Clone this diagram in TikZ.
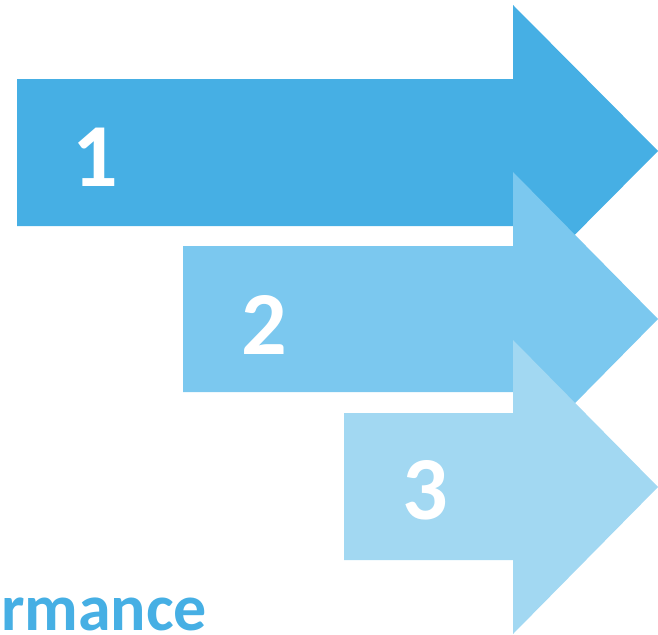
\documentclass[tikz,border=0pt]{standalone}
\usepackage{fontspec}
\setmainfont{Carlito}
\definecolor{blueA}{HTML}{46AFE4}
\definecolor{blueB}{HTML}{7BC8EF}
\definecolor{blueC}{HTML}{A2D8F2}
\begin{document}
\begin{tikzpicture}[x=1pt,y=-1pt,
  arrowshape/.style={draw=none},
  num/.style={text=white,font=\fontsize{90}{90}\selectfont\bfseries,inner sep=0pt,anchor=center},
  label/.style={text=blueA,font=\fontsize{66}{66}\selectfont\bfseries,inner sep=0pt,anchor=base west}]
\useasboundingbox (0,0) rectangle (658,634);
\begin{scope}
\clip (0,0) rectangle (658,634);
\fill[blueA,arrowshape] (17,79) -- (513,79) -- (513,5) -- (658,151) -- (513,297) -- (513,226) -- (17,226) -- cycle;
\fill[blueB,arrowshape] (183,246) -- (513,246) -- (513,172) -- (658,319) -- (513,466) -- (513,392) -- (183,392) -- cycle;
\fill[blueC,arrowshape] (344,413) -- (513,413) -- (513,340) -- (658,487) -- (513,634) -- (513,560) -- (344,560) -- cycle;
\node[num] (n1) at (95,157) {1};
\node[num] (n2) at (264,325) {2};
\node[num] (n3) at (425,490) {3};
\node[label] (perf) at (1,630) {rmance};
\end{scope}
\end{tikzpicture}
\end{document}
